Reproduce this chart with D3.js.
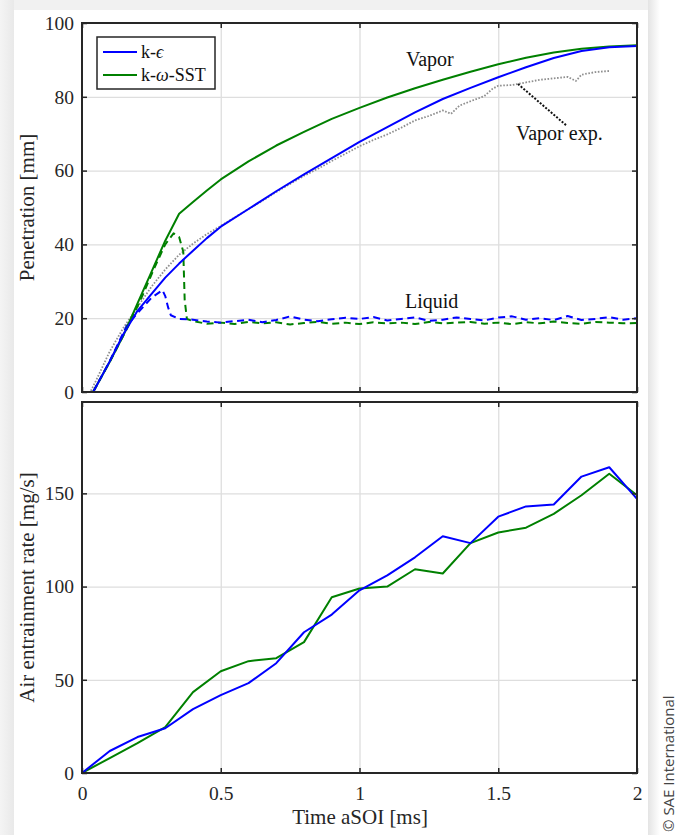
<!DOCTYPE html>
<html><head><meta charset="utf-8">
<script src="https://cdn.jsdelivr.net/npm/d3@7"></script>
<style>body{margin:0;background:#fff}svg{display:block}</style>
</head><body><div id="chart"></div>
<script>
// ---------- DATA ----------
const xTicks = [0, 0.5, 1, 1.5, 2];
const xTickLabels = ["0", "0.5", "1", "1.5", "2"];
const yTicksTop = [0, 20, 40, 60, 80, 100];
const yTicksBot = [0, 50, 100, 150];

// Top panel: vapor penetration [mm]
const tVap = [0, 0.04, 0.1, 0.15, 0.2, 0.25, 0.3, 0.35, 0.4, 0.45, 0.5, 0.6, 0.7, 0.8, 0.9, 1.0, 1.1, 1.2, 1.3, 1.4, 1.5, 1.6, 1.7, 1.8, 1.9, 2.0];
const vapKE  = [0, 0, 8.3, 15.8, 22.0, 26.5, 31.0, 34.8, 38.3, 41.7, 44.8, 49.6, 54.4, 59.0, 63.4, 67.8, 71.8, 75.8, 79.4, 82.4, 85.3, 88.0, 90.5, 92.4, 93.4, 93.8];
const vapSST = [0, 0, 8.2, 15.5, 24.0, 32.5, 41.0, 48.3, 51.5, 54.6, 57.6, 62.5, 66.8, 70.5, 74.0, 77.0, 79.8, 82.3, 84.6, 86.8, 88.8, 90.6, 92.0, 93.0, 93.6, 94.0];

const tExp = [0, 0.03, 0.05, 0.1, 0.15, 0.2, 0.25, 0.3, 0.35, 0.4, 0.45, 0.5, 0.55, 0.6, 0.65, 0.7, 0.75, 0.8, 0.85, 0.9, 0.95, 1.0, 1.05, 1.1, 1.15, 1.2, 1.25, 1.3, 1.33, 1.36, 1.4, 1.45, 1.48, 1.5, 1.55, 1.6, 1.65, 1.7, 1.75, 1.78, 1.8, 1.85, 1.9];
const vapExp = [0, 0, 3.0, 11.0, 17.5, 23.0, 28.5, 33.2, 37.2, 40.2, 42.8, 45.0, 47.3, 49.6, 51.8, 54.2, 56.4, 58.6, 60.5, 62.6, 64.6, 66.6, 68.3, 69.8, 71.6, 73.6, 74.8, 76.3, 75.4, 77.6, 78.8, 80.2, 82.2, 83.0, 83.2, 83.9, 84.6, 85.0, 85.4, 84.3, 86.0, 86.7, 87.0];

// Top panel: liquid penetration [mm]
const tLiqKE = [0, 0.04, 0.1, 0.16, 0.2, 0.25, 0.29, 0.3, 0.31, 0.32, 0.35, 0.4, 0.45, 0.5, 0.55, 0.6, 0.65, 0.7, 0.75, 0.8, 0.85, 0.9, 0.95, 1.0, 1.05, 1.1, 1.15, 1.2, 1.25, 1.3, 1.35, 1.4, 1.45, 1.5, 1.55, 1.6, 1.65, 1.7, 1.75, 1.8, 1.85, 1.9, 1.95, 2.0];
const liqKE  = [0, 0, 8.4, 17.8, 21.4, 25.5, 27.6, 26.0, 23.0, 20.8, 19.8, 19.6, 19.1, 18.8, 19.2, 19.6, 18.9, 19.5, 20.5, 19.6, 19.2, 19.7, 20.1, 19.8, 20.3, 19.4, 19.8, 20.2, 19.3, 19.6, 20.2, 19.8, 19.4, 20.2, 20.5, 19.6, 20.0, 19.5, 20.6, 19.5, 19.8, 20.3, 19.6, 20.0];
const tLiqSST = [0, 0.04, 0.1, 0.17, 0.22, 0.26, 0.3, 0.33, 0.35, 0.365, 0.37, 0.378, 0.4, 0.45, 0.5, 0.55, 0.6, 0.65, 0.7, 0.75, 0.8, 0.85, 0.9, 0.95, 1.0, 1.05, 1.1, 1.15, 1.2, 1.25, 1.3, 1.35, 1.4, 1.45, 1.5, 1.55, 1.6, 1.65, 1.7, 1.75, 1.8, 1.85, 1.9, 1.95, 2.0];
const liqSST  = [0, 0, 8.2, 18.3, 26.5, 33.5, 40.0, 43.0, 42.0, 38.0, 25.0, 19.8, 19.2, 18.5, 18.8, 18.4, 19.0, 18.6, 18.9, 18.3, 18.7, 19.0, 18.5, 18.8, 18.4, 18.9, 18.6, 18.8, 18.4, 19.0, 18.6, 18.8, 19.0, 18.5, 18.8, 18.4, 18.9, 18.6, 19.1, 18.7, 18.5, 19.0, 18.8, 18.6, 18.7];

// Bottom panel: air entrainment rate [mg/s]
const tAir = [0, 0.1, 0.2, 0.3, 0.4, 0.5, 0.6, 0.7, 0.8, 0.9, 1.0, 1.1, 1.2, 1.3, 1.4, 1.5, 1.6, 1.7, 1.8, 1.9, 2.0];
const airKE  = [0, 11.8, 19.3, 24.0, 34.3, 41.8, 48.2, 58.9, 75.5, 85.0, 98.0, 106.0, 115.7, 127.0, 123.3, 137.5, 143.0, 144.0, 159.0, 164.0, 147.0];
const airSST = [0, 8.0, 16.0, 24.6, 43.4, 54.6, 60.0, 61.6, 70.2, 94.3, 99.0, 100.0, 109.3, 107.0, 123.3, 129.0, 131.6, 139.0, 149.0, 160.5, 149.0];

// ---------- DRAW ----------
const W = 683, H = 835;
const BLUE = "#0000ff", GREEN = "#008000", GRAY = "#8f8f8f", AX = "#262626";
const SERIF = "'Liberation Serif','Times New Roman',serif";

const svg = d3.select("#chart").append("svg").attr("width", W).attr("height", H);
const defs = svg.append("defs");
const gL = defs.append("linearGradient").attr("id", "shL").attr("x1", 0).attr("x2", 1);
gL.append("stop").attr("offset", 0).attr("stop-color", "#f4f4f4");
gL.append("stop").attr("offset", 1).attr("stop-color", "#e9e9e9");
const gR = defs.append("linearGradient").attr("id", "shR").attr("x1", 0).attr("x2", 1);
gR.append("stop").attr("offset", 0).attr("stop-color", "#e4e4e4");
gR.append("stop").attr("offset", 1).attr("stop-color", "#ffffff");

svg.append("rect").attr("width", W).attr("height", H).attr("fill", "#fff");
svg.append("rect").attr("x", 0).attr("y", 0).attr("width", 656).attr("height", 10).attr("fill", "#f1f1f1");
svg.append("rect").attr("x", 0).attr("y", 0).attr("width", 14).attr("height", H).attr("fill", "url(#shL)");
svg.append("rect").attr("x", 648).attr("y", 0).attr("width", 12).attr("height", H).attr("fill", "url(#shR)");
svg.append("rect").attr("x", 14).attr("y", 10).attr("width", 634).attr("height", H - 10).attr("fill", "#fff");

const x = d3.scaleLinear().domain([0, 2]).range([82, 637]);
const yTop = d3.scaleLinear().domain([0, 100]).range([392, 23]);
const yBot = d3.scaleLinear().domain([0, 199]).range([773, 402]);

function panel(y, yTicks, showX, id) {
  const g = svg.append("g");
  const [x0, x1] = x.range();
  const [yb, yt] = y.range();
  g.append("rect").attr("x", x0).attr("y", yt).attr("width", x1 - x0).attr("height", yb - yt).attr("fill", "#fff");
  // grid
  const gx = g.append("g").attr("transform", `translate(0,${yb})`)
    .call(d3.axisBottom(x).tickValues(xTicks.slice(1, -1)).tickSize(-(yb - yt)).tickFormat(""));
  const gy = g.append("g").attr("transform", `translate(${x0},0)`)
    .call(d3.axisLeft(y).tickValues(yTicks.filter(v => y(v) > yt + 2 && y(v) < yb - 2)).tickSize(-(x1 - x0)).tickFormat(""));
  [gx, gy].forEach(s => { s.select(".domain").remove(); s.selectAll("line").attr("stroke", "#dedede").attr("stroke-width", 1.3); });
  defs.append("clipPath").attr("id", id).append("rect").attr("x", x0).attr("y", yt).attr("width", x1 - x0).attr("height", yb - yt);
  return g;
}
function frame(g, y, yTicks, showX) {
  const [x0, x1] = x.range();
  const [yb, yt] = y.range();
  const font = s => s.attr("font-family", SERIF).attr("font-size", 19.5).attr("fill", AX);
  const b = g.append("g").attr("transform", `translate(0,${yb})`)
    .call(d3.axisBottom(x).tickValues(xTicks).tickSize(-5).tickPadding(13)
      .tickFormat((d, i) => showX ? xTickLabels[i] : ""));
  const t = g.append("g").attr("transform", `translate(0,${yt})`)
    .call(d3.axisTop(x).tickValues(xTicks).tickSize(-5).tickFormat(""));
  const l = g.append("g").attr("transform", `translate(${x0},0)`)
    .call(d3.axisLeft(y).tickValues(yTicks).tickSize(-5).tickPadding(8).tickFormat(d3.format("d")));
  const r = g.append("g").attr("transform", `translate(${x1},0)`)
    .call(d3.axisRight(y).tickValues(yTicks).tickSize(-5).tickFormat(""));
  [b, t, l, r].forEach(s => {
    s.select(".domain").remove();
    s.selectAll("line").attr("stroke", AX).attr("stroke-width", 1.5);
    s.selectAll("text").call(font);
  });
  g.append("rect").attr("x", x0).attr("y", yt).attr("width", x1 - x0).attr("height", yb - yt)
    .attr("fill", "none").attr("stroke", AX).attr("stroke-width", 2);
}
function curve(g, clip, y, ts, vs, color, dash, w) {
  const line = d3.line().x((d, i) => x(ts[i])).y(d => y(d));
  g.append("path").datum(vs).attr("clip-path", `url(#${clip})`).attr("d", line)
    .attr("fill", "none").attr("stroke", color).attr("stroke-width", w || 2)
    .attr("stroke-dasharray", dash || null).attr("stroke-linejoin", "round");
}

// top panel
const gt = panel(yTop, yTicksTop, false, "clipTop");
curve(gt, "clipTop", yTop, tExp, vapExp, GRAY, "1.6,1.6", 1.8);
curve(gt, "clipTop", yTop, tLiqSST, liqSST, GREEN, "7,4.5", 2);
curve(gt, "clipTop", yTop, tLiqKE, liqKE, BLUE, "7,4.5", 2);
curve(gt, "clipTop", yTop, tVap, vapSST, GREEN, null, 2);
curve(gt, "clipTop", yTop, tVap, vapKE, BLUE, null, 2);
frame(gt, yTop, yTicksTop, false);

// annotations
const ann = (txt, ax, ay) => gt.append("text").attr("x", ax).attr("y", ay).text(txt)
  .attr("font-family", SERIF).attr("font-size", 20).attr("fill", "#111");
ann("Vapor", 406, 66);
ann("Vapor exp.", 516, 140);
ann("Liquid", 405, 308);
gt.append("line").attr("x1", 518).attr("y1", 84).attr("x2", 567).attr("y2", 126)
  .attr("stroke", "#111").attr("stroke-width", 2).attr("stroke-dasharray", "2,1.6");

// legend
const lg = gt.append("g");
lg.append("rect").attr("x", 97).attr("y", 37).attr("width", 118).attr("height", 52)
  .attr("fill", "#fff").attr("stroke", AX).attr("stroke-width", 1.5);
[[BLUE, 52, ["k-", "ϵ", ""]], [GREEN, 75, ["k-", "ω", "-SST"]]].forEach(([c, ly, parts]) => {
  lg.append("line").attr("x1", 103).attr("x2", 137).attr("y1", ly).attr("y2", ly).attr("stroke", c).attr("stroke-width", 2);
  const t = lg.append("text").attr("x", 141).attr("y", ly + 6).attr("font-family", SERIF).attr("font-size", 18).attr("fill", "#111");
  t.append("tspan").text(parts[0]);
  t.append("tspan").attr("font-style", "italic").text(parts[1]);
  if (parts[2]) t.append("tspan").text(parts[2]);
});

// bottom panel
const gb = panel(yBot, yTicksBot, true, "clipBot");
curve(gb, "clipBot", yBot, tAir, airSST, GREEN, null, 2);
curve(gb, "clipBot", yBot, tAir, airKE, BLUE, null, 2);
frame(gb, yBot, yTicksBot, true);

// axis labels
const lab = (txt, lx, ly, rot) => svg.append("text").attr("text-anchor", "middle")
  .attr("transform", `translate(${lx},${ly})` + (rot ? " rotate(-90)" : "")).text(txt)
  .attr("font-family", SERIF).attr("font-size", 21).attr("fill", AX);
lab("Penetration [mm]", 34, 207.5, true);
lab("Air entrainment rate [mg/s]", 34, 587.5, true);
lab("Time aSOI [ms]", 360, 824, false);

// copyright
svg.append("text").attr("transform", "translate(674,832) rotate(-90)").text("© SAE International")
  .attr("font-family", "'Open Sans',sans-serif").attr("font-size", 15).attr("fill", "#444");
</script></body></html>
